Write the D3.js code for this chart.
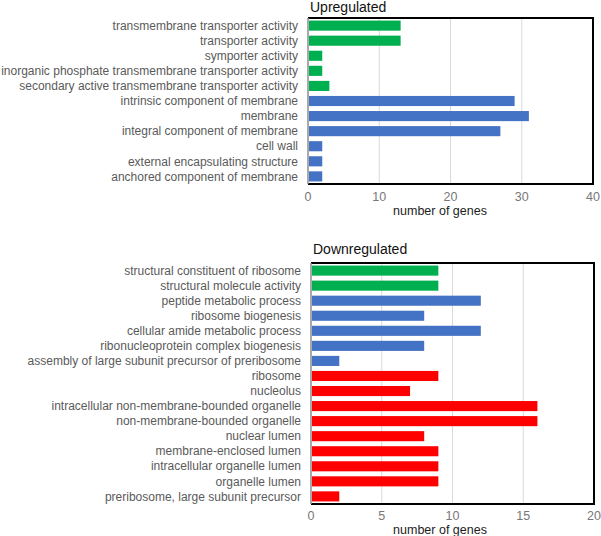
<!DOCTYPE html>
<html>
<head>
<meta charset="utf-8">
<script src="https://cdn.jsdelivr.net/npm/d3@7"></script>
<style>
  html, body { margin: 0; padding: 0; background: #fff; }
  svg { display: block; font-family: "Liberation Sans", Arial, Helvetica, sans-serif; }
</style>
</head>
<body>
<svg id="chart" width="601" height="536"></svg>
<script>
const GROUP_COLORS = { green: '#00b050', blue: '#4472c4', red: '#ff0000' };

const upLabels = [
  'transmembrane transporter activity',
  'transporter activity',
  'symporter activity',
  'inorganic phosphate transmembrane transporter activity',
  'secondary active transmembrane transporter activity',
  'intrinsic component of membrane',
  'membrane',
  'integral component of membrane',
  'cell wall',
  'external encapsulating structure',
  'anchored component of membrane'
];
const upValues = [13, 13, 2, 2, 3, 29, 31, 27, 2, 2, 2];
const upGroups = ['green', 'green', 'green', 'green', 'green', 'blue', 'blue', 'blue', 'blue', 'blue', 'blue'];
const upTicks = [0, 10, 20, 30, 40];

const downLabels = [
  'structural constituent of ribosome',
  'structural molecule activity',
  'peptide metabolic process',
  'ribosome biogenesis',
  'cellular amide metabolic process',
  'ribonucleoprotein complex biogenesis',
  'assembly of large subunit precursor of preribosome',
  'ribosome',
  'nucleolus',
  'intracellular non-membrane-bounded organelle',
  'non-membrane-bounded organelle',
  'nuclear lumen',
  'membrane-enclosed lumen',
  'intracellular organelle lumen',
  'organelle lumen',
  'preribosome, large subunit precursor'
];
const downValues = [9, 9, 12, 8, 12, 8, 2, 9, 7, 16, 16, 8, 9, 9, 9, 2];
const downGroups = ['green', 'green', 'blue', 'blue', 'blue', 'blue', 'blue',
  'red', 'red', 'red', 'red', 'red', 'red', 'red', 'red', 'red'];
const downTicks = [0, 5, 10, 15, 20];

const svg = d3.select('#chart');

drawPanel({
  title: 'Upregulated',
  labels: upLabels, values: upValues, groups: upGroups, ticks: upTicks,
  box: { left: 308, right: 593, top: 18, bottom: 184 },
  titleY: 12, tickY: 200.5, axisTitleX: 440, axisTitleY: 214.5
});

drawPanel({
  title: 'Downregulated',
  labels: downLabels, values: downValues, groups: downGroups, ticks: downTicks,
  box: { left: 311, right: 594, top: 263, bottom: 504 },
  titleY: 254, tickY: 519.5, axisTitleX: 440, axisTitleY: 533.5
});

function drawPanel(cfg) {
  const { box } = cfg;
  const g = svg.append('g');
  const x = d3.scaleLinear()
    .domain([0, cfg.ticks[cfg.ticks.length - 1]])
    .range([box.left, box.right]);
  const y = d3.scaleBand()
    .domain(cfg.labels)
    .range([box.top, box.bottom])
    .paddingInner(0.33)
    .paddingOuter(0.17);

  // vertical grid lines
  g.selectAll('.grid')
    .data(cfg.ticks.slice(1, -1))
    .enter()
    .append('line')
    .attr('x1', (d) => x(d))
    .attr('x2', (d) => x(d))
    .attr('y1', box.top)
    .attr('y2', box.bottom)
    .attr('stroke', '#d9d9d9')
    .attr('stroke-width', 1);

  g.selectAll('.bar')
    .data(cfg.values)
    .enter()
    .append('rect')
    .attr('x', x(0) + 1)
    .attr('y', (_, i) => y(cfg.labels[i]))
    .attr('width', (d) => x(d) - x(0) - 1)
    .attr('height', y.bandwidth())
    .attr('fill', (_, i) => GROUP_COLORS[cfg.groups[i]]);

  // frame: black top/right/bottom, gray left axis
  g.append('path')
    .attr('d', `M${box.left},${box.top}H${box.right}V${box.bottom}H${box.left}`)
    .attr('fill', 'none')
    .attr('stroke', '#000')
    .attr('stroke-width', 2);
  g.append('line')
    .attr('x1', box.left).attr('x2', box.left)
    .attr('y1', box.top).attr('y2', box.bottom)
    .attr('stroke', '#8c8c8c')
    .attr('stroke-width', 1.5);

  // category labels
  g.selectAll('.cat')
    .data(cfg.labels)
    .enter()
    .append('text')
    .attr('x', box.left - 10)
    .attr('y', (d) => y(d) + y.bandwidth() / 2)
    .attr('dy', '0.35em')
    .attr('text-anchor', 'end')
    .attr('font-size', 12)
    .attr('fill', '#5a5a5a')
    .text((d) => d);

  // tick labels
  g.selectAll('.tick')
    .data(cfg.ticks)
    .enter()
    .append('text')
    .attr('x', (d) => x(d))
    .attr('y', cfg.tickY)
    .attr('text-anchor', 'middle')
    .attr('font-size', 12.5)
    .attr('fill', '#777')
    .text((d) => d);

  g.append('text')
    .attr('x', cfg.axisTitleX)
    .attr('y', cfg.axisTitleY)
    .attr('text-anchor', 'middle')
    .attr('font-size', 12.5)
    .attr('fill', '#222')
    .text('number of genes');

  g.append('text')
    .attr('x', box.left + 2)
    .attr('y', cfg.titleY)
    .attr('font-size', 14)
    .attr('fill', '#111')
    .text(cfg.title);
}
</script>
</body>
</html>
